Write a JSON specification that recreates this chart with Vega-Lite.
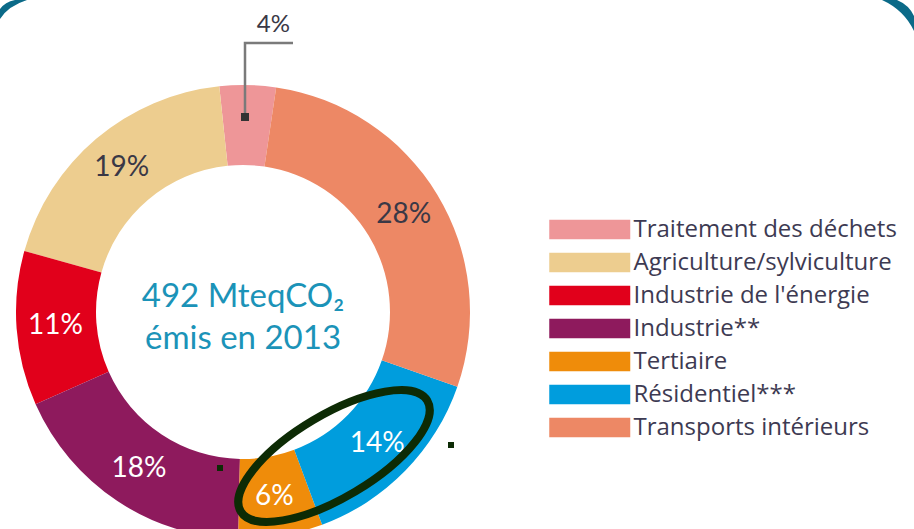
{
  "$schema": "https://vega.github.io/schema/vega-lite/v6.json",
  "width": 486,
  "height": 624,
  "padding": 0,
  "autosize": {"type": "pad"},
  "background": "white",
  "config": {"view": {"stroke": null}, "font": "Lato"},
  "data": {
    "values": [
      {"secteur": "Traitement des déchets", "part": 0.04, "rang": 1},
      {"secteur": "Agriculture/sylviculture", "part": 0.19, "rang": 2},
      {"secteur": "Industrie de l'énergie", "part": 0.11, "rang": 3},
      {"secteur": "Industrie**", "part": 0.18, "rang": 4},
      {"secteur": "Tertiaire", "part": 0.06, "rang": 5},
      {"secteur": "Résidentiel***", "part": 0.14, "rang": 6},
      {"secteur": "Transports intérieurs", "part": 0.28, "rang": 7}
    ]
  },
  "layer": [
    {
      "mark": {"type": "arc", "outerRadius": 227, "innerRadius": 147},
      "encoding": {
        "theta": {"field": "part", "type": "quantitative", "stack": true, "scale": {"range": [0.1466, 6.4298]}},
        "order": {"field": "rang", "type": "quantitative", "sort": "descending"},
        "color": {
          "field": "secteur", "type": "nominal",
          "scale": {
            "domain": ["Traitement des déchets", "Agriculture/sylviculture", "Industrie de l'énergie", "Industrie**", "Tertiaire", "Résidentiel***", "Transports intérieurs"],
            "range": ["#ee9698", "#edcd8f", "#e1001b", "#8e1a5d", "#ef8c0a", "#009ddd", "#ed8865"]
          },
          "legend": {
            "orient": "none", "legendX": 549, "legendY": 209, "title": null,
            "symbolType": "M-1,-0.48H3V0.48H-1Z", "symbolSize": 1640.25,
            "symbolStrokeWidth": 0, "symbolOpacity": 1,
            "labelFont": "Open Sans", "labelFontSize": 24, "labelColor": "#3d3a52",
            "labelOffset": 43.5, "rowPadding": -1.6, "padding": 0, "symbolOffset": 0, "labelLimit": 400
          }
        }
      }
    },
    {
      "mark": {"type": "text", "radius": 188, "font": "Lato", "fontSize": 28, "align": "center", "baseline": "middle"},
      "encoding": {
        "theta": {"field": "part", "type": "quantitative", "stack": true},
        "order": {"field": "rang", "type": "quantitative", "sort": "descending"},
        "detail": {"field": "secteur", "type": "nominal"},
        "text": {"condition": {"test": "datum.secteur === 'Traitement des déchets'", "value": ""}, "field": "part", "type": "quantitative", "format": ".0%"},
        "color": {"condition": {"test": "datum.secteur === 'Transports intérieurs' || datum.secteur === 'Agriculture/sylviculture'", "value": "#3a3846"}, "value": "#ffffff"}
      }
    },
    {
      "mark": {"type": "text", "radius": 260, "dx": 25, "dy": -27, "font": "Lato", "fontSize": 24, "align": "center", "baseline": "middle", "color": "#3a3846"},
      "encoding": {
        "theta": {"field": "part", "type": "quantitative", "stack": true},
        "order": {"field": "rang", "type": "quantitative", "sort": "descending"},
        "detail": {"field": "secteur", "type": "nominal"},
        "text": {"condition": {"test": "datum.secteur !== 'Traitement des déchets'", "value": ""}, "field": "part", "type": "quantitative", "format": ".0%"}
      }
    },
    {
      "data": {"values": [{"l1": "492 MteqCO₂", "l2": "émis en 2013"}]},
      "mark": {"type": "text", "font": "Lato", "fontSize": 33, "color": "#1b93b8", "align": "center", "baseline": "middle", "dy": -15},
      "encoding": {"text": {"field": "l1", "type": "nominal"}}
    },
    {
      "data": {"values": [{"l1": "492 MteqCO₂", "l2": "émis en 2013"}]},
      "mark": {"type": "text", "font": "Lato", "fontSize": 33, "color": "#1b93b8", "align": "center", "baseline": "middle", "dy": 27},
      "encoding": {"text": {"field": "l2", "type": "nominal"}}
    },
    {
      "data": {"values": [{}]},
      "mark": {"type": "point", "shape": "M2,-196V-269H50", "size": 4, "filled": false, "stroke": "#7a7a7a", "strokeWidth": 2.5, "opacity": 1},
      "encoding": {}
    },
    {
      "data": {"values": [{}]},
      "mark": {"type": "point", "shape": "M-2,-199h8v8h-8Z", "size": 4, "filled": true, "fill": "#333333", "strokeWidth": 0, "opacity": 1},
      "encoding": {}
    },
    {
      "data": {"values": [{}]},
      "mark": {"type": "point", "shape": "M-26,153h6v6h-6Z M205,130h6v6h-6Z", "size": 4, "filled": true, "fill": "#0d2b05", "strokeWidth": 0, "opacity": 1},
      "encoding": {}
    },
    {
      "data": {"values": [{}]},
      "mark": {"type": "point", "shape": "M184.3,88.6A108.5,41.5,-30.7,1,0,-2.3,199.4A108.5,41.5,-30.7,1,0,184.3,88.6Z", "size": 4, "filled": false, "stroke": "#0d2b05", "strokeWidth": 8, "opacity": 1},
      "encoding": {}
    },
    {
      "data": {"values": [{}]},
      "mark": {"type": "point", "shape": "M-228,-312L-216,-312Q-235,-306,-243,-293L-243,-303Q-238,-310,-228,-312Z M654,-312Q666,-307,671,-296L671,-281Q661,-302,639,-312Z", "size": 4, "filled": true, "fill": "#0b6a88", "strokeWidth": 0, "opacity": 1},
      "encoding": {}
    }
  ]
}
